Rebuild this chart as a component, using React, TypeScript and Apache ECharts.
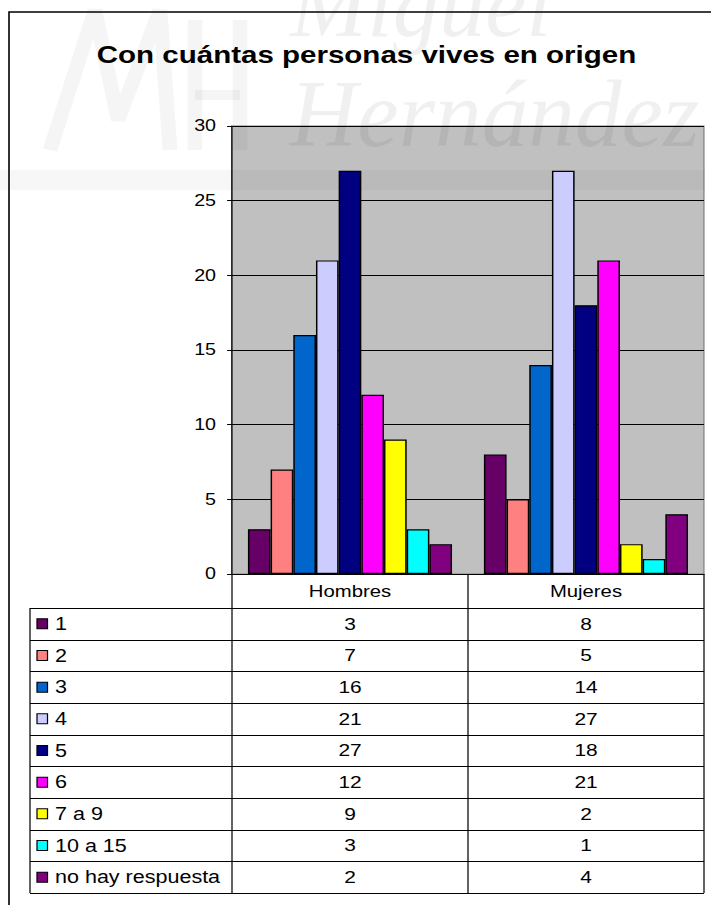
import React, { useEffect, useRef } from 'react';
import * as echarts from 'echarts';

// ---- data ----
const categories = ['Hombres', 'Mujeres'];
const seriesNames = ['1', '2', '3', '4', '5', '6', '7 a 9', '10 a 15', 'no hay respuesta'];
const hombres = [3, 7, 16, 21, 27, 12, 9, 3, 2];
const mujeres = [8, 5, 14, 27, 18, 21, 2, 1, 4];
const colors = ['#660066', '#FF8080', '#0066CC', '#CCCCFF', '#000080', '#FF00FF', '#FFFF00', '#00FFFF', '#800080'];
const titleText = 'Con cuántas personas vives en origen';

// ---- layout (screen pixels; the drawing is stretched horizontally by S) ----
const S = 1.23;
const W = 711;
const H = 905;
const CW = W / S;
const X = (v: number) => v / S;
const PLOT_L = 232, PLOT_R = 704, PLOT_T = 126, PLOT_B = 574;
const TABLE_L = 30, HEAD_B = 608, TABLE_B = 893;
const FONT = '"Liberation Sans", Arial, sans-serif';
const WM = 'rgba(0,0,0,0.06)';
const WM_LOGO = 'rgba(0,0,0,0.04)';

export default function App() {
  const ref = useRef<HTMLDivElement>(null);
  useEffect(() => {
    if (!ref.current) return;
    const chart = echarts.init(ref.current, null, { renderer: 'svg' });
    const rowH = (TABLE_B - HEAD_B) / seriesNames.length;
    const catW = (PLOT_R - PLOT_L) / categories.length;
    const graphic: any[] = [];

    // watermark (background image of the original page)
    graphic.push(
      { type: 'text', silent: true, z: 1, x: X(290), y: 4, scaleX: 0.8, style: { text: 'Miguel', font: 'italic 94px "Liberation Serif", serif', fill: WM, align: 'left', verticalAlign: 'middle' } },
      { type: 'text', silent: true, z: 1, x: X(290), y: 114, scaleX: 0.79, style: { text: 'Hernández', font: 'italic 96px "Liberation Serif", serif', fill: WM, align: 'left', verticalAlign: 'middle' } },
      { type: 'polyline', silent: true, z: 1, shape: { points: [[X(50), 150], [X(95), 10], [X(118), 120], [X(160), 10], [X(170), 150]] }, style: { stroke: WM_LOGO, lineWidth: 12, fill: 'none' } },
      { type: 'polyline', silent: true, z: 1, shape: { points: [[X(195), 20], [X(195), 150]] }, style: { stroke: WM_LOGO, lineWidth: 12, fill: 'none' } },
      { type: 'polyline', silent: true, z: 1, shape: { points: [[X(240), 20], [X(240), 150]] }, style: { stroke: WM_LOGO, lineWidth: 12, fill: 'none' } },
      { type: 'polyline', silent: true, z: 1, shape: { points: [[X(195), 95], [X(240), 95]] }, style: { stroke: WM_LOGO, lineWidth: 10, fill: 'none' } },
      { type: 'rect', silent: true, z: 1, shape: { x: 0, y: 170, width: X(705), height: 20 }, style: { fill: 'rgba(0,0,0,0.03)' } }
    );

    // outer border
    graphic.push({ type: 'rect', silent: true, z: 10, shape: { x: X(9), y: 12, width: CW, height: H }, style: { fill: 'none', stroke: '#000', lineWidth: 1.3 } });

    // title
    graphic.push({ type: 'text', z: 10, x: X(366.5), y: 55, style: { text: titleText, font: `bold 24px ${FONT}`, fill: '#000', align: 'center', verticalAlign: 'middle' } });

    // data table lines
    const lineStyle = { stroke: '#000', lineWidth: 1 };
    [PLOT_L, PLOT_L + catW, PLOT_R].forEach((x) => {
      graphic.push({ type: 'line', z: 10, shape: { x1: X(x), y1: PLOT_B, x2: X(x), y2: TABLE_B }, style: lineStyle });
    });
    graphic.push({ type: 'line', z: 10, shape: { x1: X(TABLE_L), y1: HEAD_B, x2: X(TABLE_L), y2: TABLE_B }, style: lineStyle });
    for (let i = 0; i <= seriesNames.length; i++) {
      const y = Math.round(HEAD_B + i * rowH) + 0.5;
      graphic.push({ type: 'line', z: 10, shape: { x1: X(TABLE_L), y1: y, x2: X(PLOT_R), y2: y }, style: lineStyle });
    }
    seriesNames.forEach((name, i) => {
      const cy = HEAD_B + rowH * (i + 0.5);
      graphic.push({ type: 'rect', z: 10, shape: { x: X(37), y: cy - 5, width: X(10.5), height: 10 }, style: { fill: colors[i], stroke: '#000', lineWidth: 1 } });
      graphic.push({ type: 'text', z: 10, x: X(55), y: cy, style: { text: name, font: `17.5px ${FONT}`, fill: '#000', align: 'left', verticalAlign: 'middle' } });
      [hombres[i], mujeres[i]].forEach((v, c) => {
        graphic.push({ type: 'text', z: 10, x: X(PLOT_L + catW * (c + 0.5)), y: cy, style: { text: String(v), font: `17px ${FONT}`, fill: '#000', align: 'center', verticalAlign: 'middle' } });
      });
    });

    const option: any = {
      animation: false,
      backgroundColor: '#ffffff',
      grid: {
        left: X(PLOT_L), right: CW - X(PLOT_R), top: PLOT_T, bottom: H - PLOT_B,
        show: true, backgroundColor: '#c0c0c0', borderColor: '#808080', borderWidth: 1,
      },
      xAxis: {
        type: 'category', data: categories,
        axisLine: { show: true, lineStyle: { color: '#000', width: 1 } },
        axisTick: { show: false },
        axisLabel: { color: '#000', fontSize: 16.5, fontFamily: FONT, margin: 9 },
        splitLine: { show: false },
      },
      yAxis: {
        type: 'value', min: 0, max: 30, interval: 5,
        axisLine: { show: true, lineStyle: { color: '#000', width: 1 } },
        axisTick: { show: true, length: 4, lineStyle: { color: '#000' } },
        axisLabel: { color: '#000', fontSize: 16, fontFamily: FONT, margin: 13 },
        splitLine: { show: true, lineStyle: { color: '#000', width: 1 } },
      },
      series: seriesNames.map((name, i) => ({
        type: 'bar', name, data: [hombres[i], mujeres[i]],
        itemStyle: { color: colors[i], borderColor: '#000', borderWidth: 1.2 },
        barGap: '0%', barCategoryGap: '13.5%', z: 3,
      })),
      graphic,
    };
    chart.setOption(option);
    return () => chart.dispose();
  }, []);

  return (
    <div style={{ position: 'fixed', left: 0, top: 0, width: W, height: H, overflow: 'hidden', background: '#fff' }}>
      <div ref={ref} style={{ width: CW, height: H, transform: `scaleX(${S})`, transformOrigin: '0 0' }} />
    </div>
  );
}
